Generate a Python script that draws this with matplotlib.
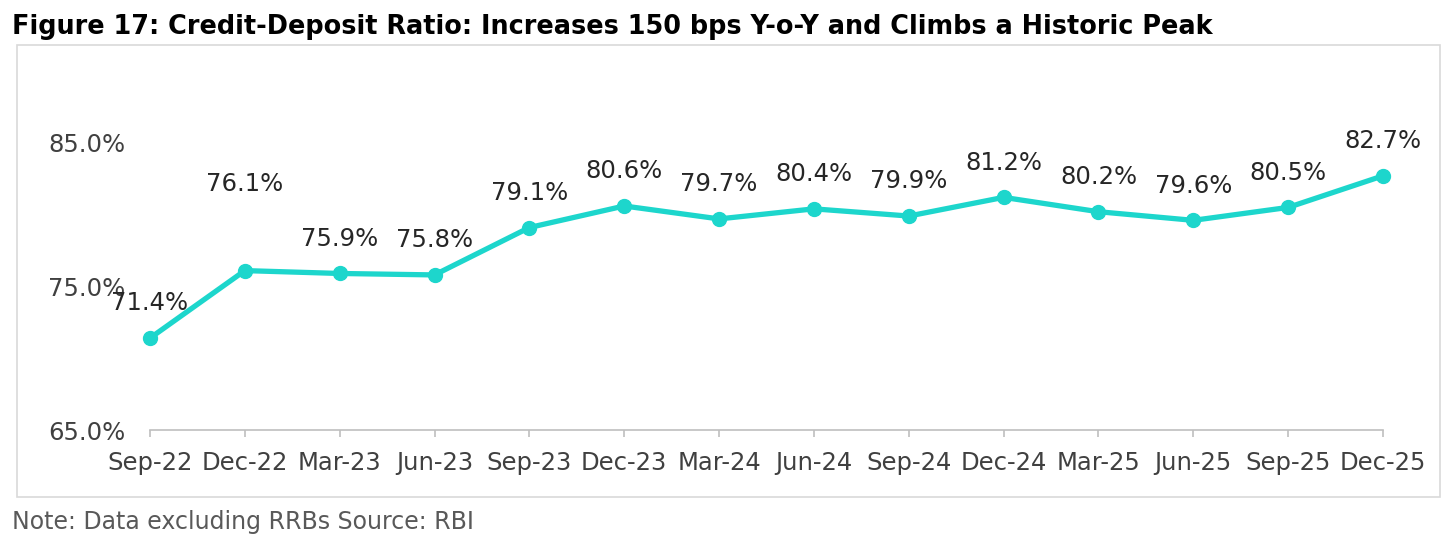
import matplotlib.pyplot as plt
from matplotlib.patches import Rectangle

# Data
quarters = ['Sep-22', 'Dec-22', 'Mar-23', 'Jun-23', 'Sep-23', 'Dec-23', 'Mar-24',
            'Jun-24', 'Sep-24', 'Dec-24', 'Mar-25', 'Jun-25', 'Sep-25', 'Dec-25']
cd_ratio = [71.4, 76.1, 75.9, 75.8, 79.1, 80.6, 79.7, 80.4, 79.9, 81.2, 80.2, 79.6, 80.5, 82.7]
y_ticks = [65, 75, 85]

title = 'Figure 17: Credit-Deposit Ratio: Increases 150 bps Y-o-Y and Climbs a Historic Peak'
note = 'Note: Data excluding RRBs Source: RBI'

line_col = '#1DD6CC'
text_col = '#404040'

fig = plt.figure(figsize=(14.56, 5.53), dpi=100)
ax = fig.add_axes([150 / 1456, 1 - 430 / 553, (1383 - 150) / 1456, (430 - 71) / 553])

x = list(range(len(quarters)))
ax.plot(x, cd_ratio, color=line_col, lw=3.8, marker='o', markersize=10, solid_capstyle='round')

# labels above points (Dec-22 one was pushed higher in original)
for i, v in enumerate(cd_ratio):
    dy = 62 if i == 1 else 25
    ax.annotate(f'{v:.1f}%', (i, v), xytext=(0, dy), textcoords='offset points',
                ha='center', va='center', fontsize=17.5, color='#262626')

ax.set_xlim(0, len(quarters) - 1)
ax.set_ylim(65, 90)
ax.set_xticks(x)
ax.set_xticklabels(quarters, fontsize=17.5, color=text_col)
ax.set_yticks(y_ticks)
ax.set_yticklabels([f'{t:.1f}%' for t in y_ticks], fontsize=17.5, color=text_col)
ax.tick_params(axis='y', length=0, pad=18)
ax.tick_params(axis='x', length=5, color='#BFBFBF', width=1.2, pad=10)

for s in ['top', 'right', 'left']:
    ax.spines[s].set_visible(False)
ax.spines['bottom'].set_color('#BFBFBF')
ax.spines['bottom'].set_linewidth(1.2)
for ln in ax.lines:
    ln.set_clip_on(False)

# outer frame
fig.patches.append(Rectangle((17 / 1456, 1 - 497 / 553), (1440 - 17) / 1456, (497 - 45) / 553,
                             transform=fig.transFigure, fill=False, edgecolor='#D9D9D9', lw=1.2))

fig.text(12 / 1456, 1 - 27 / 553, title, fontsize=18.4, fontweight='bold', color='black',
         ha='left', va='center')
fig.text(12 / 1456, 1 - 522 / 553, note, fontsize=17, color='#595959', ha='left', va='center')

fig.savefig('out.png', dpi=100)
